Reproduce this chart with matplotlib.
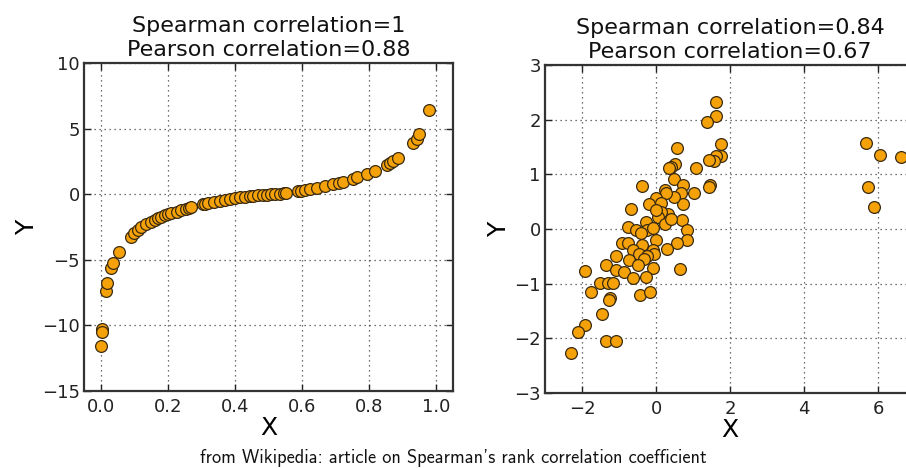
import matplotlib
matplotlib.use("Agg")
import matplotlib.pyplot as plt

# ---- left panel data (monotone, non-linear) ----
left_x = [0.000, 0.003, 0.004, 0.015, 0.020, 0.030, 0.035, 0.053, 0.090, 0.100,
          0.110, 0.120, 0.135, 0.150, 0.163, 0.172, 0.180, 0.190, 0.200, 0.210,
          0.226, 0.240, 0.254, 0.262, 0.270, 0.304, 0.312, 0.320, 0.339, 0.354,
          0.370, 0.384, 0.400, 0.414, 0.430, 0.444, 0.455, 0.468, 0.484, 0.495,
          0.508, 0.520, 0.533, 0.545, 0.553, 0.588, 0.598, 0.608, 0.623, 0.645,
          0.668, 0.693, 0.710, 0.723, 0.753, 0.765, 0.793, 0.818, 0.852, 0.862,
          0.872, 0.887, 0.932, 0.942, 0.950, 0.977]
left_y = [-11.55, -10.30, -10.50, -7.36, -6.80, -5.66, -5.28, -4.39, -3.25, -2.94,
          -2.70, -2.49, -2.30, -2.10, -1.98, -1.85, -1.73, -1.60, -1.50, -1.42,
          -1.32, -1.22, -1.12, -1.03, -0.96, -0.76, -0.71, -0.66, -0.58, -0.51,
          -0.43, -0.36, -0.29, -0.23, -0.20, -0.13, -0.10, -0.08, -0.05, -0.03,
          0.00, 0.02, 0.05, 0.08, 0.10, 0.25, 0.27, 0.30, 0.36, 0.51,
          0.61, 0.76, 0.85, 0.91, 1.19, 1.30, 1.57, 1.78, 2.21, 2.36,
          2.51, 2.79, 3.91, 4.24, 4.57, 6.45]

# ---- right panel data (linear cloud plus outliers) ----
right_x = [1.63, 1.63, 1.38, 1.76, 1.76, 1.61, 1.58, 1.42, 1.45, 1.43,
           1.09, 1.02, 0.56, 0.50, 0.41, 0.36, 0.48, 0.74, 0.68, 0.74,
           0.71, 0.48, 0.25, 0.27, -0.39, 0.00, -0.18, 0.14, 0.32, 0.14,
           0.05, 0.23, 0.41, -0.68, -0.75, -0.54, -0.27, -0.23, -0.41, 0.83,
           0.84, 0.56, 0.30, 0.00, -0.93, -0.75, -0.38, -0.63, -0.45, -0.09,
           -0.05, -0.23, -0.32, -1.09, -0.72, -0.50, -0.09, -1.34, -1.09, -0.86,
           -0.63, -0.27, 0.65, -1.93, -1.52, -1.29, -1.15, -1.76, -1.24, -1.27,
           -0.43, -0.16, -1.45, -1.92, -2.11, -1.36, -1.09, -2.29, -0.09, 0.00,
           5.68, 5.74, 5.90, 6.06, 6.62]
right_y = [2.33, 2.06, 1.96, 1.55, 1.33, 1.33, 1.24, 1.27, 0.80, 0.76,
           1.12, 0.66, 1.48, 1.18, 1.13, 1.12, 0.92, 0.80, 0.65, 0.45,
           0.16, 0.58, 0.72, 0.66, 0.78, 0.56, 0.45, 0.47, 0.28, 0.32,
           0.22, 0.10, 0.19, 0.36, 0.04, -0.02, 0.12, -0.02, -0.08, -0.02,
           -0.20, -0.25, -0.36, -0.21, -0.26, -0.25, -0.29, -0.38, -0.45, -0.38,
           -0.45, -0.50, -0.55, -0.49, -0.56, -0.65, -0.72, -0.65, -0.75, -0.78,
           -0.90, -0.87, -0.73, -0.76, -0.99, -0.99, -0.99, -1.16, -1.26, -1.29,
           -1.21, -1.15, -1.55, -1.75, -1.88, -2.04, -2.05, -2.26, 0.01, 0.35,
           1.58, 0.76, 0.40, 1.35, 1.32]

left_title = "Spearman correlation=1\nPearson correlation=0.88"
right_title = "Spearman correlation=0.84\nPearson correlation=0.67"
left_xticks = [0.0, 0.2, 0.4, 0.6, 0.8, 1.0]
left_yticks = [-15, -10, -5, 0, 5, 10]
right_xticks = [-2, 0, 2, 4, 6]
right_yticks = [-3, -2, -1, 0, 1, 2, 3]
caption = "from Wikipedia: article on Spearman's rank correlation coefficient"

fig = plt.figure(figsize=(9.06, 4.68), dpi=100)
ax1 = fig.add_axes([84 / 906, 77 / 468, 369 / 906, 328 / 468])
ax2 = fig.add_axes([545 / 906, 75 / 468, 370 / 906, 328 / 468])

def style(ax, xt, yt, xfmt):
    ax.set_xticks(xt)
    ax.set_yticks(yt)
    ax.set_xticklabels([xfmt(v) for v in xt])
    ax.set_yticklabels([("\u2212" if v < 0 else "") + str(abs(v)) for v in yt])
    ax.grid(True, color="#444444", linestyle=(0, (1, 3)), linewidth=0.9)
    ax.tick_params(direction="in", length=5, width=1, top=True, right=True,
                   labelsize=13, colors="#222222", pad=3)
    ax.tick_params(axis="x", pad=5)
    for s in ax.spines.values():
        s.set_linewidth(1.6)
        s.set_color("#333333")
    ax.set_axisbelow(True)

ax1.scatter(left_x, left_y, s=72, c="#f5a20a", edgecolors="#3a2a10",
            linewidths=0.9, zorder=3)
ax1.set_xlim(-0.05, 1.05)
ax1.set_ylim(-15, 10)
style(ax1, left_xticks, left_yticks, lambda v: f"{v:.1f}")
ax1.set_title(left_title, fontsize=16, linespacing=1.25, pad=5, color="#111111")
ax1.set_xlabel("X", fontsize=18, labelpad=0)
ax1.set_ylabel("Y", fontsize=18, labelpad=2)

ax2.scatter(right_x, right_y, s=72, c="#f5a20a", edgecolors="#3a2a10",
            linewidths=0.9, zorder=3)
ax2.set_xlim(-3, 7)
ax2.set_ylim(-3, 3)
style(ax2, right_xticks, right_yticks,
      lambda v: ("\u2212" if v < 0 else "") + str(abs(v)))
ax2.set_title(right_title, fontsize=16, linespacing=1.25, pad=5, color="#111111")
ax2.set_xlabel("X", fontsize=18, labelpad=0)
ax2.set_ylabel("Y", fontsize=18, labelpad=2)

fig.text(0.5, 10 / 468, caption, ha="center", va="center", fontsize=13.2,
         family=["cmss10", "DejaVu Sans"], color="#111111")

fig.savefig("out.png", dpi=100)
